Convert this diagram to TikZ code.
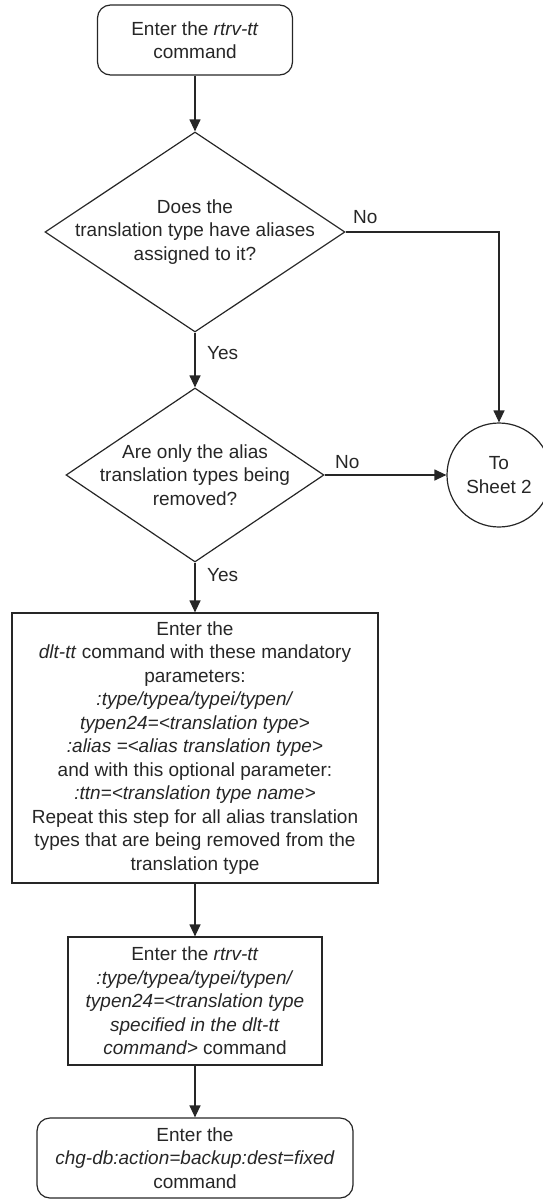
\documentclass[tikz,border=0pt]{standalone}
\usepackage{fontspec}
\setmainfont{Liberation Sans}
\usetikzlibrary{arrows.meta,shapes.geometric}
\begin{document}
\begin{tikzpicture}[x=1pt,y=-1pt,
  every node/.style={font=\fontsize{19}{23.5}\selectfont, text=black!85},
  lineobj/.style={draw=black!85, line width=1.2pt},
  termbox/.style={lineobj, rounded corners=13pt, align=center, inner sep=0pt},
  procbox/.style={lineobj, align=center, inner sep=0pt},
  decbox/.style={lineobj, diamond, inner sep=0pt},
  conn/.style={circle, lineobj, align=center, inner sep=0pt, minimum size=104pt},
  txt/.style={align=center, inner sep=0pt},
  lbl/.style={inner sep=0pt, anchor=west},
  flow/.style={draw=black!85, line width=1.2pt, -{Triangle[length=12pt,width=11pt]}}
]
\useasboundingbox (0,0) rectangle (542,1203);

\node[termbox, minimum width=195pt, minimum height=70pt] (start) at (195,40)
  {Enter the \textit{rtrv-tt}\\command};

\node[decbox, minimum width=300pt, minimum height=200pt] (d1) at (195,232) {};
\node[txt] (d1t) at (195,232) {Does the\\translation type have aliases\\assigned to it?};

\node[decbox, minimum width=258pt, minimum height=174pt] (d2) at (195,475) {};
\node[txt] (d2t) at (195,475) {Are only the alias\\translation types being\\removed?};

\node[conn] (sheet) at (499,475) {To\\Sheet 2};

\node[procbox, minimum width=366pt, minimum height=270pt] (r1) at (195,748)
  {Enter the\\
   \textit{dlt-tt} command with these mandatory\\
   parameters:\\
   \textit{:type/typea/typei/typen/}\\
   \textit{typen24=<translation type>}\\
   \textit{:alias =<alias translation type>}\\
   and with this optional parameter:\\
   \textit{:ttn=<translation type name>}\\
   Repeat this step for all alias translation\\
   types that are being removed from the\\
   translation type};

\node[procbox, minimum width=254pt, minimum height=128pt] (r2) at (195,1001)
  {Enter the \textit{rtrv-tt}\\
   \textit{:type/typea/typei/typen/}\\
   \textit{typen24=<translation type}\\
   \textit{specified in the dlt-tt}\\
   \textit{command>} command};

\node[termbox, minimum width=316pt, minimum height=80pt] (end) at (195,1158)
  {Enter the\\\textit{chg-db:action=backup:dest=fixed}\\command};

\coordinate (c1) at (sheet.north |- d1.east);

\draw[flow] (start.south) -- (d1.north);
\draw[flow] (d1.east) -- (c1) -- (sheet.north);
\draw[flow] (d1.south) -- (d2.north);
\draw[flow] (d2.east) -- (sheet.west);
\draw[flow] (d2.south) -- (r1.north);
\draw[flow] (r1.south) -- (r2.north);
\draw[flow] (r2.south) -- (end.north);

\node[lbl] (no1) at (353,217) {No};
\node[lbl] (yes1) at (207,353) {Yes};
\node[lbl] (no2) at (335,462) {No};
\node[lbl] (yes2) at (207,575) {Yes};
\end{tikzpicture}
\end{document}
